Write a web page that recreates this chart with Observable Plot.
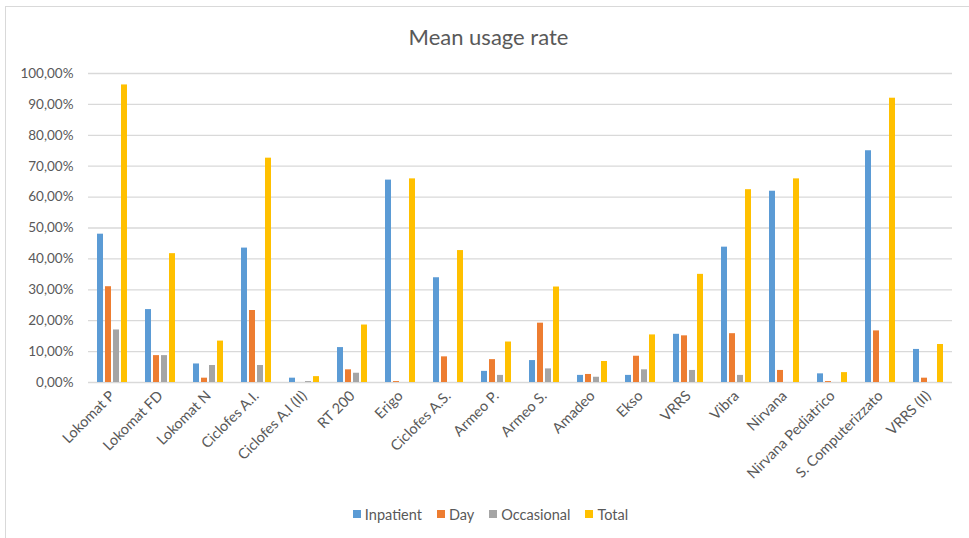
<!DOCTYPE html>
<html><head><meta charset="utf-8">
<script src="https://cdn.jsdelivr.net/npm/d3@7"></script>
<script src="https://cdn.jsdelivr.net/npm/@observablehq/plot@0.6"></script>
<style>
body{margin:0;background:#fff;font-family:Lato,"Open Sans",sans-serif;}
#wrap{position:relative;width:969px;height:538px;overflow:hidden;}
#border{position:absolute;left:5px;top:6px;width:1000px;height:600px;border:1px solid #d9d9d9;box-sizing:border-box;pointer-events:none;}
#title{height:60px;box-sizing:border-box;padding-top:23px;padding-left:8px;text-align:center;font-size:22px;line-height:27px;color:#595959;}
#chart svg{display:block;}
#legend{display:flex;justify-content:center;align-items:center;gap:15px;height:48px;padding-left:12px;font-size:14.5px;color:#595959;}
#legend .item{display:flex;align-items:center;gap:4px;}
#legend .sw{width:8px;height:8px;display:inline-block;}
</style></head>
<body>
<div id="wrap">
<div id="border"></div>
<div id="title">Mean usage rate</div>
<div id="chart"></div>
<div id="legend"></div>
</div>
<script>
const categories = ["Lokomat P","Lokomat FD","Lokomat N","Ciclofes A.I.","Ciclofes A.I (II)","RT 200","Erigo","Ciclofes A.S.","Armeo P.","Armeo S.","Amadeo","Ekso","VRRS","Vibra","Nirvana","Nirvana Pediatrico","S. Computerizzato","VRRS (II)"];
const series = ["Inpatient","Day","Occasional","Total"];
const colors = ["#5B9BD5","#ED7D31","#A5A5A5","#FFC000"];
const inpatient  = [48.0,23.6,6.0,43.5,1.4,11.3,65.5,33.9,3.6,7.1,2.3,2.3,15.6,43.8,61.9,2.8,75.0,10.7];
const day        = [31.0,8.7,1.4,23.3,0.0,4.1,0.3,8.3,7.4,19.2,2.6,8.5,15.1,15.8,3.9,0.3,16.7,1.4];
const occasional = [17.0,8.7,5.5,5.5,0.3,3.0,0.0,0.0,2.3,4.4,1.7,4.1,3.9,2.3,0.0,0.0,0.0,0.0];
const total      = [96.3,41.7,13.4,72.6,1.9,18.6,65.9,42.7,13.1,30.9,6.8,15.4,35.0,62.4,65.9,3.2,92.0,12.3];
const yTicks = [0,0.1,0.2,0.3,0.4,0.5,0.6,0.7,0.8,0.9,1.0];

const seriesValues = [inpatient, day, occasional, total];
const data = categories.flatMap((c, i) => series.map((s, j) => ({category: c, series: s, value: seriesValues[j][i] / 100})));

const chart = Plot.plot({
  width: 969,
  height: 430,
  marginLeft: 88,
  marginRight: 17,
  marginTop: 13,
  marginBottom: 108,
  style: {fontFamily: "Lato, 'Open Sans', sans-serif", color: "#595959", background: "#fff"},
  fx: {domain: categories, padding: 0, axis: null},
  x: {domain: series, axis: null, paddingInner: 0.2, paddingOuter: 0.865},
  y: {domain: [0, 1], axis: null},
  color: {domain: series, range: colors},
  marks: [
    Plot.gridY(yTicks, {stroke: "#d9d9d9", strokeOpacity: 1, strokeWidth: 1.3}),
    Plot.axisY(yTicks, {tickSize: 0, tickPadding: 15, fontSize: 13.5, fill: "#595959", label: null,
      tickFormat: d => (d * 100).toFixed(2).replace(".", ",") + "%", facetAnchor: "left"}),
    Plot.barY(data, {fx: "category", x: "series", y: "value", fill: "series"}),
    Plot.axisFx({anchor: "bottom", tickRotate: -45, tickSize: 0, tickPadding: 11, fontSize: 14.5, fill: "#595959", label: null})
  ]
});
document.getElementById("chart").appendChild(chart);

const legend = document.getElementById("legend");
series.forEach((s, i) => {
  const item = document.createElement("div");
  item.className = "item";
  const sw = document.createElement("span");
  sw.className = "sw";
  sw.style.background = colors[i];
  const t = document.createElement("span");
  t.textContent = s;
  item.appendChild(sw);
  item.appendChild(t);
  legend.appendChild(item);
});
</script>
</body></html>
